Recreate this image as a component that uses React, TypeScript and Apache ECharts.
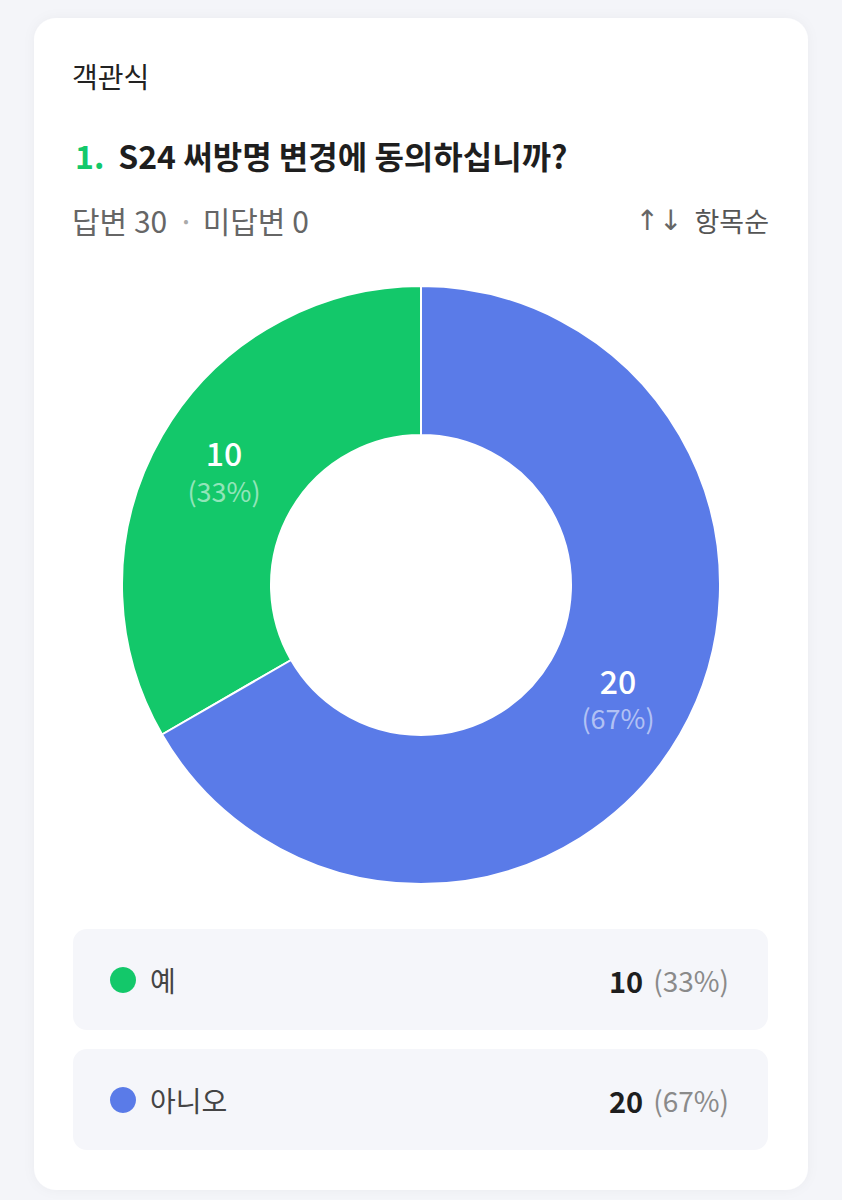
import React, { useEffect, useRef } from "react";
import * as echarts from "echarts";

const categories = ["예", "아니오"];
const counts = [10, 20];
const percents = [33, 67];
const colors = ["#13C86A", "#5A7BE8"];
const answered = 30;
const unanswered = 0;

const FONT = "'Noto Sans CJK KR', 'Noto Sans', sans-serif";

export default function App() {
  const ref = useRef<HTMLDivElement>(null);
  useEffect(() => {
    document.body.style.margin = "0";
    const chart = echarts.init(ref.current!, null, { renderer: "svg" });
    const pieData = categories.map((name, i) => ({
      name,
      value: counts[i],
      pct: percents[i],
      itemStyle: { color: colors[i] },
    }));

    const rowGraphics: any[] = [];
    categories.forEach((name, i) => {
      const top = 929 + i * 120;
      rowGraphics.push({
        type: "rect",
        shape: { x: 73, y: top, width: 695, height: 101, r: 14 },
        style: { fill: "#F5F6FA" },
        z: 1,
      });
      rowGraphics.push({
        type: "circle",
        shape: { cx: 123, cy: top + 51, r: 13 },
        style: { fill: colors[i] },
        z: 2,
      });
      rowGraphics.push({
        type: "text",
        x: 150,
        y: top + 51,
        style: {
          text: name,
          font: `400 28px ${FONT}`,
          fill: "#444",
          verticalAlign: "middle",
        },
        z: 2,
      });
      rowGraphics.push({
        type: "text",
        x: 729,
        y: top + 51,
        style: {
          text: `{v|${counts[i]}}{p|(${percents[i]}%)}`,
          align: "right",
          verticalAlign: "middle",
          rich: {
            v: { font: `700 29px ${FONT}`, fill: "#1E1E1E" },
            p: { font: `400 28px ${FONT}`, fill: "#8A8A8A", padding: [0, 0, 0, 10] },
          },
        },
        z: 2,
      });
    });

    chart.setOption({
      animation: false,
      backgroundColor: "#F4F5F9",
      graphic: [
        {
          type: "rect",
          shape: { x: 34, y: 18, width: 774, height: 1172, r: 22 },
          style: {
            fill: "#FFFFFF",
            shadowBlur: 12,
            shadowColor: "rgba(0,0,0,0.04)",
          },
          z: 0,
        },
        {
          type: "text",
          x: 72,
          y: 76,
          style: {
            text: "객관식",
            font: `400 28px ${FONT}`,
            fill: "#222",
            verticalAlign: "middle",
          },
          z: 2,
        },
        {
          type: "text",
          x: 75,
          y: 155,
          style: {
            text: "{n|1.}{t|S24 써방명 변경에 동의하십니까?}",
            verticalAlign: "middle",
            rich: {
              n: { font: `700 32px ${FONT}`, fill: "#13C86A" },
              t: {
                font: `700 32px ${FONT}`,
                fill: "#1E1E1E",
                padding: [0, 0, 0, 14],
              },
            },
          },
          z: 2,
        },
        {
          type: "text",
          x: 72,
          y: 220,
          style: {
            text: `답변 ${answered}{d|•}미답변 ${unanswered}`,
            font: `400 30px ${FONT}`,
            fill: "#666",
            verticalAlign: "middle",
            rich: {
              d: {
                font: `400 16px ${FONT}`,
                fill: "#AAA",
                padding: [0, 14, 0, 16],
              },
            },
          },
          z: 2,
        },
        {
          type: "text",
          x: 769,
          y: 220,
          style: {
            text: "{a|↑↓}항목순",
            font: `400 27px ${FONT}`,
            fill: "#555",
            align: "right",
            verticalAlign: "middle",
            rich: {
              a: {
                font: `400 28px 'DejaVu Sans', sans-serif`,
                fill: "#666",
                padding: [0, 12, 0, 0],
              },
            },
          },
          z: 2,
        },
        ...rowGraphics,
      ],
      series: [
        {
          type: "pie",
          center: [421, 585],
          radius: [150, 299],
          startAngle: 90,
          clockwise: false,
          z: 5,
          itemStyle: { borderColor: "#FFFFFF", borderWidth: 2 },
          label: {
            show: true,
            position: "inside",
            formatter: (p: any) => `{v|${p.value}}\n{p|(${p.data.pct}%)}`,
            rich: {
              v: {
                fontFamily: FONT,
                fontSize: 32,
                fontWeight: 500,
                color: "#FFFFFF",
                lineHeight: 38,
              },
              p: {
                fontFamily: FONT,
                fontSize: 27,
                color: "rgba(255,255,255,0.55)",
                lineHeight: 38,
              },
            },
          },
          labelLine: { show: false },
          emphasis: { disabled: true },
          data: pieData,
        },
      ],
    });
    return () => chart.dispose();
  }, []);
  return (
    <div
      ref={ref}
      style={{ position: "absolute", left: 0, top: 0, width: 842, height: 1200 }}
    />
  );
}
